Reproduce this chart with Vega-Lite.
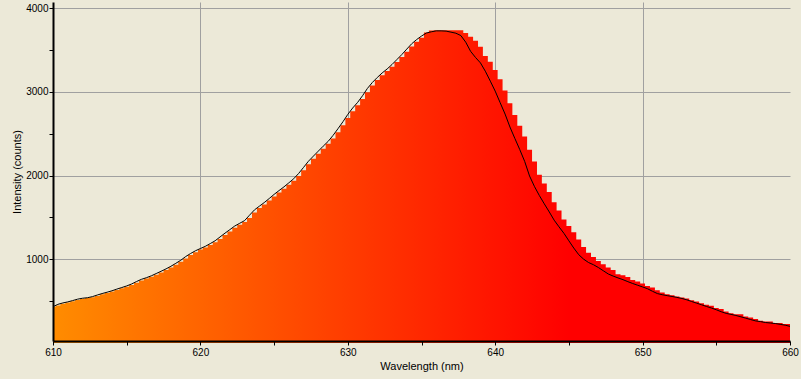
{
  "$schema": "https://vega.github.io/schema/vega-lite/v6.json",
  "width": 737,
  "height": 339,
  "autosize": "none",
  "padding": {"left": 53, "top": 2, "right": 11, "bottom": 38},
  "background": "#ECE9D8",
  "config": {"view": {"stroke": null}, "font": "Liberation Sans"},
  "data": {"values": [
    {"w": 610.00, "bar": 430, "line": 434},
    {"w": 610.33, "bar": 448, "line": 462},
    {"w": 610.67, "bar": 470, "line": 479},
    {"w": 611.00, "bar": 485, "line": 491},
    {"w": 611.33, "bar": 499, "line": 507},
    {"w": 611.67, "bar": 515, "line": 524},
    {"w": 612.00, "bar": 529, "line": 535},
    {"w": 612.33, "bar": 538, "line": 541},
    {"w": 612.67, "bar": 547, "line": 554},
    {"w": 613.00, "bar": 563, "line": 573},
    {"w": 613.33, "bar": 582, "line": 591},
    {"w": 613.67, "bar": 599, "line": 607},
    {"w": 614.00, "bar": 615, "line": 624},
    {"w": 614.33, "bar": 634, "line": 644},
    {"w": 614.67, "bar": 653, "line": 663},
    {"w": 615.00, "bar": 672, "line": 682},
    {"w": 615.33, "bar": 693, "line": 705},
    {"w": 615.67, "bar": 720, "line": 735},
    {"w": 616.00, "bar": 748, "line": 761},
    {"w": 616.33, "bar": 770, "line": 780},
    {"w": 616.67, "bar": 791, "line": 803},
    {"w": 617.00, "bar": 816, "line": 830},
    {"w": 617.33, "bar": 843, "line": 857},
    {"w": 617.67, "bar": 871, "line": 886},
    {"w": 618.00, "bar": 901, "line": 917},
    {"w": 618.33, "bar": 934, "line": 952},
    {"w": 618.67, "bar": 970, "line": 989},
    {"w": 619.00, "bar": 1011, "line": 1033},
    {"w": 619.33, "bar": 1051, "line": 1069},
    {"w": 619.67, "bar": 1086, "line": 1103},
    {"w": 620.00, "bar": 1116, "line": 1129},
    {"w": 620.33, "bar": 1142, "line": 1155},
    {"w": 620.67, "bar": 1171, "line": 1188},
    {"w": 621.00, "bar": 1205, "line": 1222},
    {"w": 621.33, "bar": 1244, "line": 1267},
    {"w": 621.67, "bar": 1290, "line": 1313},
    {"w": 622.00, "bar": 1334, "line": 1355},
    {"w": 622.33, "bar": 1376, "line": 1398},
    {"w": 622.67, "bar": 1414, "line": 1431},
    {"w": 623.00, "bar": 1447, "line": 1463},
    {"w": 623.33, "bar": 1495, "line": 1527},
    {"w": 623.67, "bar": 1559, "line": 1591},
    {"w": 624.00, "bar": 1613, "line": 1635},
    {"w": 624.33, "bar": 1656, "line": 1678},
    {"w": 624.67, "bar": 1702, "line": 1727},
    {"w": 625.00, "bar": 1751, "line": 1776},
    {"w": 625.33, "bar": 1798, "line": 1821},
    {"w": 625.67, "bar": 1843, "line": 1866},
    {"w": 626.00, "bar": 1890, "line": 1914},
    {"w": 626.33, "bar": 1938, "line": 1963},
    {"w": 626.67, "bar": 1995, "line": 2027},
    {"w": 627.00, "bar": 2063, "line": 2099},
    {"w": 627.33, "bar": 2135, "line": 2172},
    {"w": 627.67, "bar": 2203, "line": 2234},
    {"w": 628.00, "bar": 2263, "line": 2293},
    {"w": 628.33, "bar": 2322, "line": 2352},
    {"w": 628.67, "bar": 2381, "line": 2410},
    {"w": 629.00, "bar": 2445, "line": 2481},
    {"w": 629.33, "bar": 2520, "line": 2560},
    {"w": 629.67, "bar": 2602, "line": 2644},
    {"w": 630.00, "bar": 2688, "line": 2732},
    {"w": 630.33, "bar": 2770, "line": 2808},
    {"w": 630.67, "bar": 2842, "line": 2876},
    {"w": 631.00, "bar": 2915, "line": 2955},
    {"w": 631.33, "bar": 2998, "line": 3042},
    {"w": 631.67, "bar": 3078, "line": 3114},
    {"w": 632.00, "bar": 3143, "line": 3173},
    {"w": 632.33, "bar": 3200, "line": 3227},
    {"w": 632.67, "bar": 3251, "line": 3275},
    {"w": 633.00, "bar": 3301, "line": 3328},
    {"w": 633.33, "bar": 3357, "line": 3387},
    {"w": 633.67, "bar": 3417, "line": 3448},
    {"w": 634.00, "bar": 3480, "line": 3512},
    {"w": 634.33, "bar": 3543, "line": 3575},
    {"w": 634.67, "bar": 3600, "line": 3626},
    {"w": 635.00, "bar": 3647, "line": 3668},
    {"w": 635.33, "bar": 3712, "line": 3704},
    {"w": 635.67, "bar": 3735, "line": 3719},
    {"w": 636.00, "bar": 3738, "line": 3730},
    {"w": 636.33, "bar": 3738, "line": 3730},
    {"w": 636.67, "bar": 3738, "line": 3727},
    {"w": 637.00, "bar": 3738, "line": 3715},
    {"w": 637.33, "bar": 3738, "line": 3702},
    {"w": 637.67, "bar": 3738, "line": 3674},
    {"w": 638.00, "bar": 3706, "line": 3595},
    {"w": 638.33, "bar": 3659, "line": 3486},
    {"w": 638.67, "bar": 3611, "line": 3411},
    {"w": 639.00, "bar": 3540, "line": 3347},
    {"w": 639.33, "bar": 3429, "line": 3248},
    {"w": 639.67, "bar": 3361, "line": 3129},
    {"w": 640.00, "bar": 3262, "line": 3010},
    {"w": 640.33, "bar": 3151, "line": 2874},
    {"w": 640.67, "bar": 3016, "line": 2736},
    {"w": 641.00, "bar": 2865, "line": 2581},
    {"w": 641.33, "bar": 2726, "line": 2446},
    {"w": 641.67, "bar": 2595, "line": 2310},
    {"w": 642.00, "bar": 2468, "line": 2170},
    {"w": 642.33, "bar": 2310, "line": 1996},
    {"w": 642.67, "bar": 2170, "line": 1868},
    {"w": 643.00, "bar": 2012, "line": 1761},
    {"w": 643.33, "bar": 1905, "line": 1663},
    {"w": 643.67, "bar": 1806, "line": 1566},
    {"w": 644.00, "bar": 1682, "line": 1468},
    {"w": 644.33, "bar": 1583, "line": 1388},
    {"w": 644.67, "bar": 1476, "line": 1309},
    {"w": 645.00, "bar": 1397, "line": 1221},
    {"w": 645.33, "bar": 1325, "line": 1135},
    {"w": 645.67, "bar": 1238, "line": 1055},
    {"w": 646.00, "bar": 1146, "line": 1002},
    {"w": 646.33, "bar": 1080, "line": 962},
    {"w": 646.67, "bar": 1027, "line": 935},
    {"w": 647.00, "bar": 980, "line": 902},
    {"w": 647.33, "bar": 940, "line": 864},
    {"w": 647.67, "bar": 901, "line": 825},
    {"w": 648.00, "bar": 873, "line": 800},
    {"w": 648.33, "bar": 821, "line": 778},
    {"w": 648.67, "bar": 810, "line": 757},
    {"w": 649.00, "bar": 789, "line": 733},
    {"w": 649.33, "bar": 754, "line": 711},
    {"w": 649.67, "bar": 734, "line": 690},
    {"w": 650.00, "bar": 711, "line": 670},
    {"w": 650.33, "bar": 682, "line": 649},
    {"w": 650.67, "bar": 663, "line": 618},
    {"w": 651.00, "bar": 631, "line": 591},
    {"w": 651.33, "bar": 603, "line": 577},
    {"w": 651.67, "bar": 583, "line": 566},
    {"w": 652.00, "bar": 571, "line": 556},
    {"w": 652.33, "bar": 556, "line": 545},
    {"w": 652.67, "bar": 544, "line": 532},
    {"w": 653.00, "bar": 532, "line": 516},
    {"w": 653.33, "bar": 512, "line": 496},
    {"w": 653.67, "bar": 496, "line": 476},
    {"w": 654.00, "bar": 476, "line": 457},
    {"w": 654.33, "bar": 456, "line": 437},
    {"w": 654.67, "bar": 444, "line": 418},
    {"w": 655.00, "bar": 417, "line": 397},
    {"w": 655.33, "bar": 405, "line": 374},
    {"w": 655.67, "bar": 377, "line": 354},
    {"w": 656.00, "bar": 357, "line": 342},
    {"w": 656.33, "bar": 345, "line": 329},
    {"w": 656.67, "bar": 345, "line": 313},
    {"w": 657.00, "bar": 318, "line": 297},
    {"w": 657.33, "bar": 306, "line": 280},
    {"w": 657.67, "bar": 286, "line": 264},
    {"w": 658.00, "bar": 266, "line": 256},
    {"w": 658.33, "bar": 258, "line": 245},
    {"w": 658.67, "bar": 258, "line": 239},
    {"w": 659.00, "bar": 238, "line": 233},
    {"w": 659.33, "bar": 238, "line": 223},
    {"w": 659.67, "bar": 226, "line": 213},
    {"w": 660.00, "bar": 226, "line": 199}
  ]},
  "layer": [
    {
      "mark": {
        "type": "area",
        "interpolate": "step",
        "fillOpacity": 1,
        "fill": {
          "gradient": "linear",
          "x1": 0, "y1": 0, "x2": 1, "y2": 0,
          "stops": [
            {"offset": 0, "color": "#FF8C00"},
            {"offset": 0.7, "color": "#FF0000"},
            {"offset": 1, "color": "#FF0000"}
          ]
        }
      },
      "encoding": {
        "x": {
          "field": "w", "type": "quantitative",
          "scale": {"domain": [610, 660], "nice": false, "zero": false},
          "axis": {
            "orient": "bottom", "values": [620, 630, 640, 650],
            "grid": true, "gridColor": "#A0A0A0", "gridWidth": 1,
            "domain": false, "ticks": false, "labels": false, "title": null, "zindex": 0
          }
        },
        "y": {
          "field": "bar", "type": "quantitative",
          "scale": {"domain": [24, 4075], "nice": false, "zero": false},
          "axis": {
            "orient": "left", "values": [1000, 2000, 3000, 4000],
            "grid": true, "gridColor": "#A0A0A0", "gridWidth": 1,
            "domain": false, "ticks": false, "labels": false, "title": null, "zindex": 0
          }
        }
      }
    },
    {
      "mark": {"type": "line", "color": "#000000", "strokeWidth": 1},
      "encoding": {
        "x": {
          "field": "w", "type": "quantitative",
          "scale": {"domain": [610, 660], "nice": false, "zero": false},
          "axis": {
            "orient": "bottom",
            "values": [610, 615, 620, 625, 630, 635, 640, 645, 650, 655, 660],
            "format": "d",
            "labelExpr": "datum.value % 10 === 0 ? datum.label : ''",
            "grid": false, "domain": true, "domainColor": "#000000", "domainWidth": 2,
            "ticks": true, "tickColor": "#000000", "tickSize": 4, "tickWidth": 1,
            "labelFont": "Liberation Sans", "labelFontSize": 10, "labelColor": "#000000",
            "labelPadding": 2, "labelFlush": false, "labelOverlap": false,
            "title": "Wavelength (nm)", "titleFont": "Liberation Sans", "titleFontSize": 11,
            "titleFontWeight": "normal", "titleColor": "#000000", "titlePadding": 3,
            "zindex": 1
          }
        },
        "y": {
          "field": "line", "type": "quantitative",
          "scale": {"domain": [24, 4075], "nice": false, "zero": false},
          "axis": {
            "orient": "left",
            "values": [500, 1000, 1500, 2000, 2500, 3000, 3500, 4000],
            "format": "d",
            "labelExpr": "datum.value % 1000 === 0 ? datum.label : ''",
            "grid": false, "domain": true, "domainColor": "#000000", "domainWidth": 2,
            "ticks": true, "tickColor": "#000000", "tickSize": 4, "tickWidth": 1,
            "labelFont": "Liberation Sans", "labelFontSize": 10, "labelColor": "#000000",
            "labelPadding": 1, "labelFlush": false, "labelOverlap": false,
            "title": "Intensity (counts)", "titleFont": "Liberation Sans", "titleFontSize": 11,
            "titleFontWeight": "normal", "titleColor": "#000000", "titlePadding": 3,
            "zindex": 1
          }
        }
      }
    }
  ],
  "resolve": {"axis": {"x": "independent", "y": "independent"}}
}
